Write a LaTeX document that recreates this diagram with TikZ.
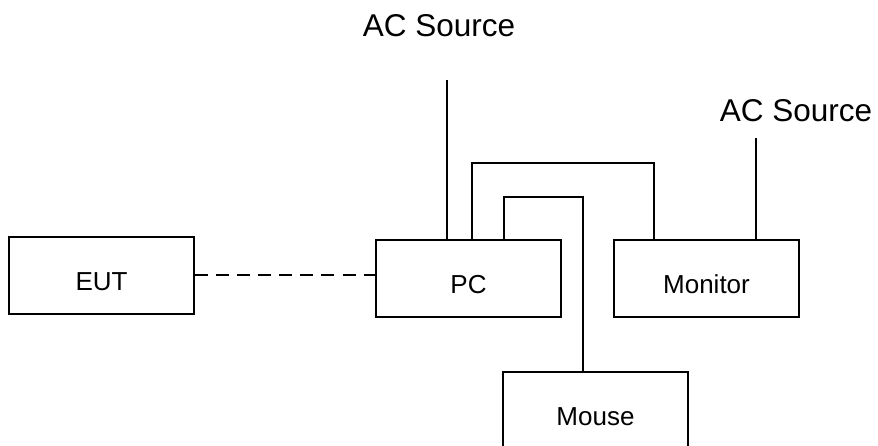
\documentclass[tikz,border=0pt]{standalone}
\usepackage{fontspec}
\setmainfont{Liberation Sans}
\begin{document}
\begin{tikzpicture}[x=1pt,y=-1pt,
  devbox/.style={draw,line width=1.6pt,minimum width=185pt,minimum height=77pt,inner sep=0pt,
    font=\fontsize{26}{30}\selectfont,text height=30pt,text depth=0pt},
  wire/.style={line width=1.6pt},
  srclabel/.style={anchor=base,inner sep=0pt,font=\fontsize{31.5}{36}\selectfont}]
\useasboundingbox (0,0) rectangle (878,446);
\clip (0,0) rectangle (878,446);
\node[devbox] (eut) at (101.5,275.5) {EUT};
\node[devbox] (pc) at (468.5,278.5) {PC};
\node[devbox] (mon) at (706.5,278.5) {Monitor};
\node[devbox] (mouse) at (595.5,410.5) {Mouse};
\node[srclabel] (acl) at (439,37) {AC Source};
\node[srclabel] (acr) at (796,122) {AC Source};
\coordinate (xa) at (447,80);
\coordinate (xb) at (472,163);
\coordinate (xc) at (654,163);
\coordinate (xd) at (504,197);
\coordinate (xe) at (583,197);
\coordinate (xf) at (756,138);
\draw[wire,line width=2pt,dash pattern=on 13pt off 8.1pt] (eut.east) -- (eut.east -| pc.west);
\draw[wire] (pc.north -| xa) -- (xa);
\draw[wire] (pc.north -| xb) -- (xb) -- (xc) -- (mon.north -| xc);
\draw[wire] (pc.north -| xd) -- (xd) -- (xe) -- (mouse.north -| xe);
\draw[wire] (mon.north -| xf) -- (xf);
\end{tikzpicture}
\end{document}
